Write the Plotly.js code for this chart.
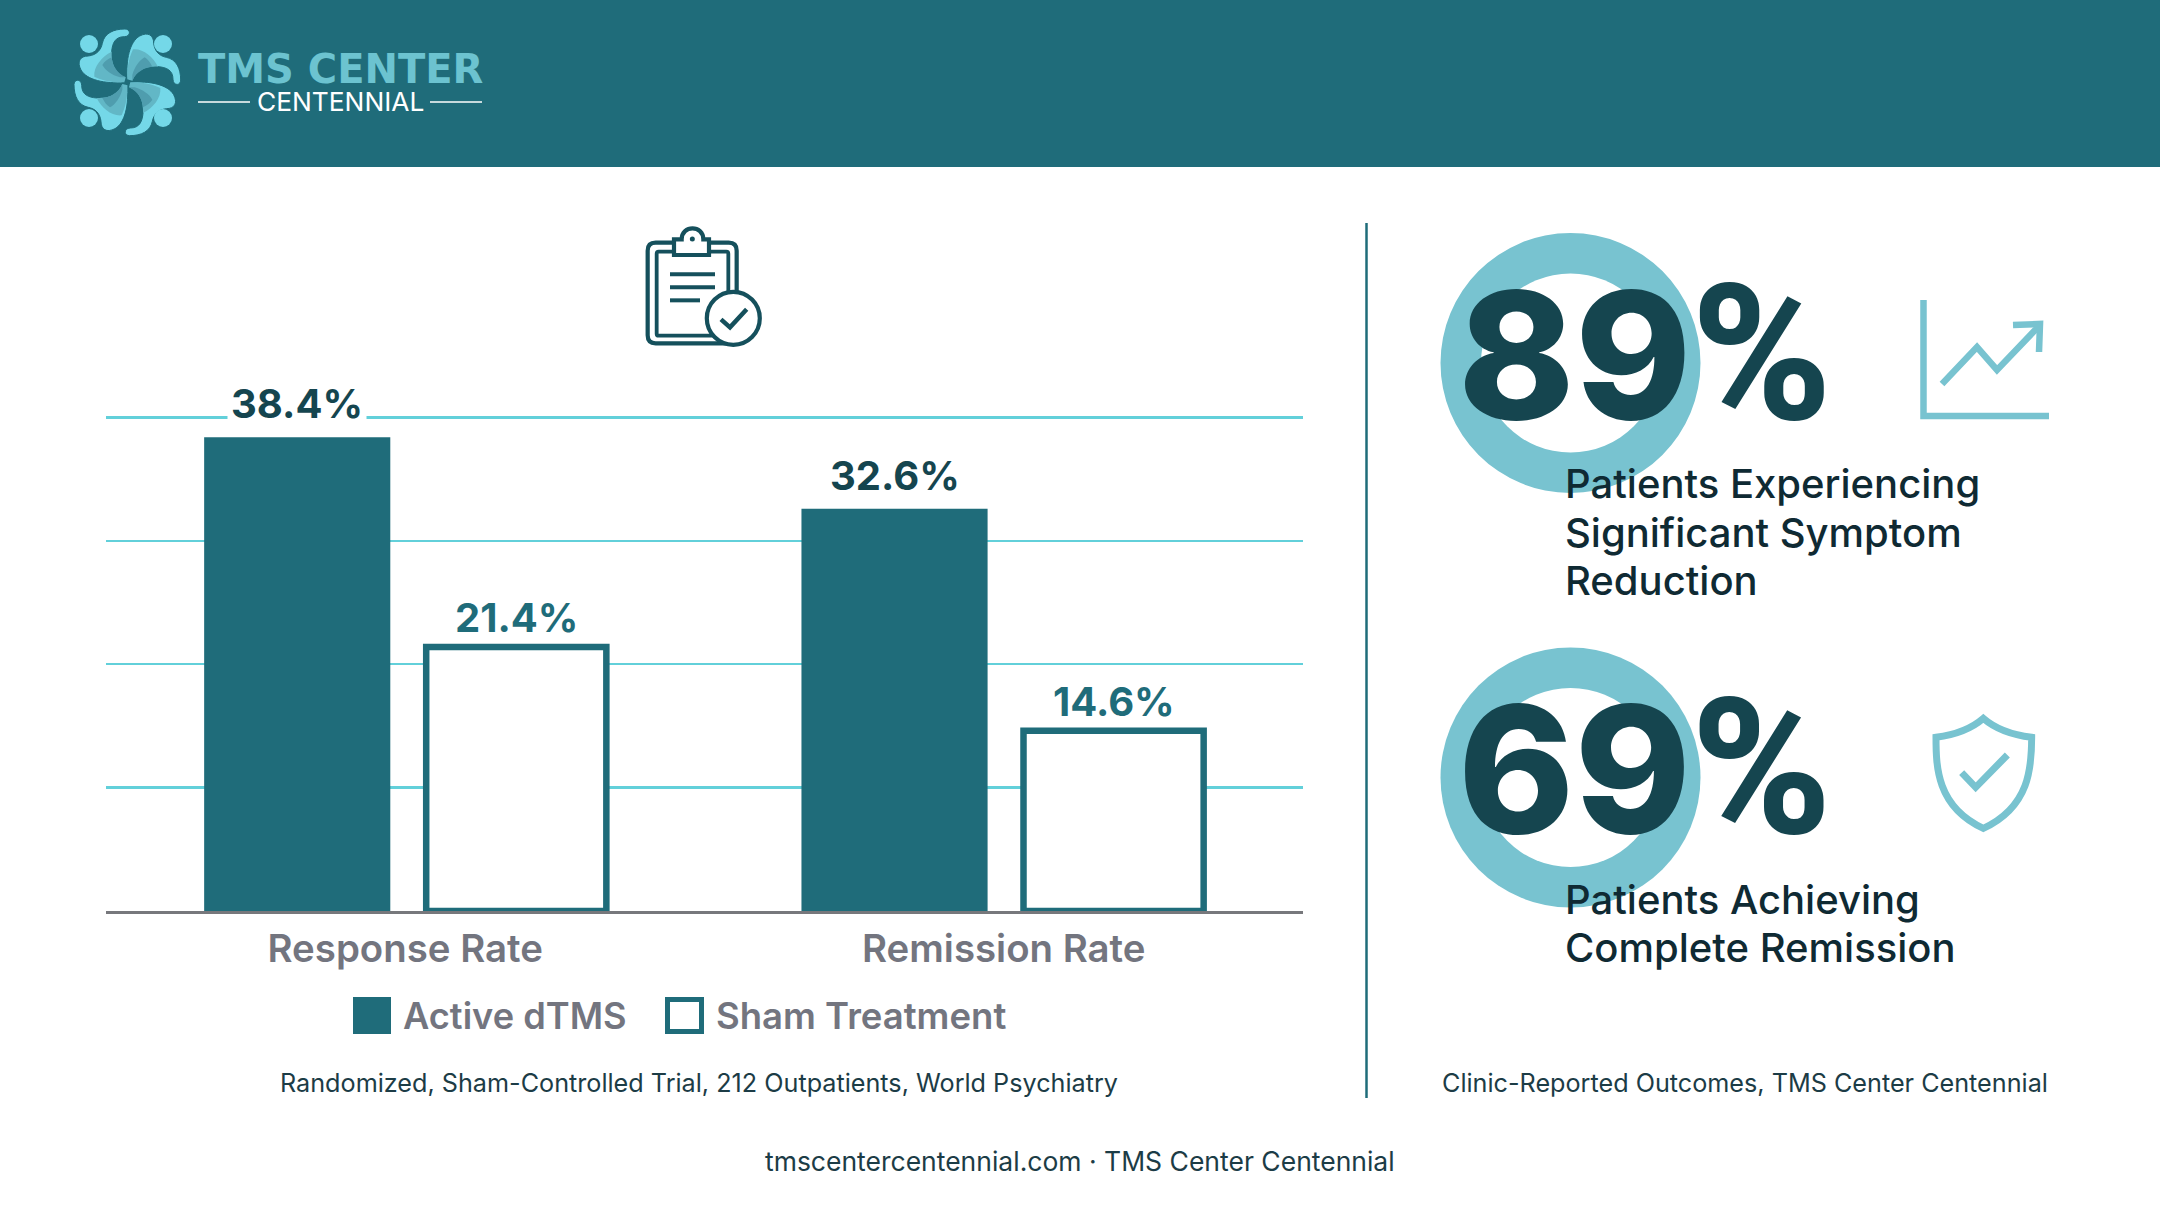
<!DOCTYPE html>
<html>
<head>
<meta charset="utf-8">
<script src="https://cdn.plot.ly/plotly-3.0.1.min.js"></script>
<style>html,body{margin:0;padding:0;background:#fff}#chart{width:2160px;height:1206px}</style>
</head>
<body>
<div id="chart"></div>
<script>
// ---- data ----
const categories = ["Response Rate", "Remission Rate"];
const activeValues = [38.4, 32.6];
const shamValues = [21.4, 14.6];
const seriesNames = ["Active dTMS", "Sham Treatment"];
const statValues = ["89", "69"];
const statCaptions = [
  ["Patients Experiencing", "Significant Symptom", "Reduction"],
  ["Patients Achieving", "Complete Remission"]
];
const sourceLeft = "Randomized, Sham-Controlled Trial, 212 Outpatients, World Psychiatry";
const sourceRight = "Clinic-Reported Outcomes, TMS Center Centennial";
const footerText = "tmscentercentennial.com · TMS Center Centennial";

// ---- styles ----
const W = 2160, H = 1206;
const TEAL = "#1f6c7a", DARK = "#15454f", LIGHT = "#78c3d0", GRID = "#62d0da", GREY = "#73757f", INK = "#0f2a33";
const FONT = "Inter, 'Noto Sans', sans-serif";
const px = x => x / W, py = y => 1 - y / H;
const AW = 0.311, AO = [-0.336, -0.338], SW = 0.301, SO = [0.035, 0.033];
const UNIT_PX = 12.34, YMAX = 41;

// pixel path -> paper path; crop coords scaled by s around origin (ox,oy)
function P(d, ox = 0, oy = 0, s = 1) {
  let i = 0;
  return d.replace(/-?\d+(\.\d+)?/g, m => {
    const v = parseFloat(m);
    const r = (i % 2 === 0) ? px(ox + v * s) : py(oy + v * s);
    i++;
    return r.toFixed(6);
  });
}
function rr(x0, y0, x1, y1, r) {
  return `M${x0 + r},${y0} L${x1 - r},${y0} Q${x1},${y0} ${x1},${y0 + r} L${x1},${y1 - r} Q${x1},${y1} ${x1 - r},${y1} L${x0 + r},${y1} Q${x0},${y1} ${x0},${y1 - r} L${x0},${y0 + r} Q${x0},${y0} ${x0 + r},${y0} Z`;
}
const paper = {xref: "paper", yref: "paper"};
const rect = (x0, y0, x1, y1, fill, line, lw) => ({...paper, type: "rect", x0: px(x0), x1: px(x1), y0: py(y1), y1: py(y0), fillcolor: fill, line: {width: lw || 0, color: line || fill}});
const circ = (cx, cy, r, fill, line, lw, op) => ({...paper, type: "circle", x0: px(cx - r), x1: px(cx + r), y0: py(cy + r), y1: py(cy - r), fillcolor: fill, opacity: op === undefined ? 1 : op, line: {width: lw || 0, color: line || fill}});
const pth = (d, fill, line, lw, op) => ({...paper, type: "path", path: d, fillcolor: fill || "rgba(0,0,0,0)", opacity: op === undefined ? 1 : op, line: {width: lw || 0, color: line || "rgba(0,0,0,0)"}});
const seg = (x0, y0, x1, y1, c, lw) => ({...paper, type: "line", x0: px(x0), x1: px(x1), y0: py(y0), y1: py(y1), line: {color: c, width: lw}});
const txt = (text, x, y, size, color, weight, anchor, family) => ({...paper, text, x: px(x), y: py(y), xanchor: anchor || "center", yanchor: "middle", showarrow: false, font: {family: family || FONT, size, color, weight: weight || 400}, borderpad: 0});

const shapes = [];
// header
shapes.push(rect(0, 0, W, 167, TEAL));
// logo mark: four rotated swooshes and dots
function rot(pts, k) { // quarter-turns about centre (crop coordinates 187,187)
  return pts.replace(/(-?\d+(?:\.\d+)?),(-?\d+(?:\.\d+)?)/g, (m, a, b) => {
    let x = +a - 187, y = +b - 187;
    for (let i = 0; i < k; i++) { const t = x; x = -y; y = t; }
    return (x + 187).toFixed(1) + "," + (y + 187).toFixed(1);
  });
}
const swoosh = "M180,27 C198,27 198,50 178,50 C150,50 142,70 140,95 C138,130 150,160 182,172 L178,187 C120,192 65,180 48,150 C35,125 45,108 70,108 C95,105 108,90 112,70 C118,40 145,27 180,27 Z";
const shade1 = "M140,95 C138,130 150,160 182,172 L178,187 C150,188 120,185 88,170 C85,140 110,110 140,95 Z";
const shade2 = "M140,112 C142,135 155,160 182,172 L165,172 C140,165 120,150 112,135 C118,125 128,118 140,112 Z";
for (let k = 0; k < 4; k++) {
  shapes.push(pth(P(rot(swoosh, k), 65, 20, 1/3), "#74d8e8", TEAL, 1));
  shapes.push(pth(P(rot(shade1, k), 65, 20, 1/3), "#62b7c6"));
  shapes.push(pth(P(rot(shade2, k), 65, 20, 1/3), "#4f9dae"));
}
[[89, 44], [163, 44], [89, 118], [163, 118]].forEach(c => shapes.push(circ(c[0], c[1], 9, "#74d8e8")));
// logo rules
shapes.push(seg(198, 102, 250, 102, "#ffffff", 1.5), seg(430, 102, 482, 102, "#ffffff", 1.5));
// divider
shapes.push(seg(1366.5, 223, 1366.5, 1098, TEAL, 2.5));

// clipboard icon (crop coordinates, offset 635,220, 3x)
const CB = "#15505c";
const o = [635, 220, 1/3];
shapes.push(pth(P(rr(38, 68, 305, 370, 24), ...o), "#ffffff", CB, 4.2));
shapes.push(pth(P(rr(65, 95, 280, 347, 6), ...o), "#ffffff", CB, 3.8));
shapes.push(pth(P("M117,58 L140,58 C140,14 205,14 205,58 L222,58 L222,105 L117,105 Z", ...o), "#ffffff", CB, 4.2));
shapes.push(circ(635 + 172/3, 220 + 57/3, 2.5, CB));
[[105, 240, 163], [105, 240, 202], [105, 195, 241]].forEach(l => shapes.push(seg(635 + l[0]/3, 220 + l[2]/3, 635 + l[1]/3, 220 + l[2]/3, CB, 4)));
shapes.push(circ(733.3, 318.3, 26.5, "#ffffff", CB, 4.2));
shapes.push(pth(P("M258,298 L285,322 L335,268", ...o), null, CB, 4.5));

// stat donuts
[[1570.5, 363], [1570.5, 777.5]].forEach(c => {
  shapes.push(circ(c[0], c[1], 130, LIGHT));
  shapes.push(circ(c[0], c[1], 89.5, "#ffffff"));
});
// growth icon
shapes.push(pth(P("M1923.5,300 L1923.5,416 L2049,416"), null, LIGHT, 6.5));
shapes.push(pth(P("M1942,384 L1977,347 L1997,370 L2040,325"), null, LIGHT, 6.5));
shapes.push(pth(P("M2013,325 L2040,324 L2039,352"), null, LIGHT, 6.5));
// shield icon
shapes.push(pth(P("M220,55 C180,90 130,105 78,112 C78,200 80,320 220,385 C360,320 365,200 365,112 C310,105 260,90 220,55 Z", 1910, 700, 1/3), null, LIGHT, 7));
shapes.push(pth(P("M155,218 L197,262 L292,165", 1910, 700, 1/3), null, LIGHT, 7));
// legend swatches
shapes.push(rect(353, 997, 391, 1034, TEAL));
shapes.push(rect(667.5, 999.5, 701.5, 1031.5, "#ffffff", TEAL, 5));

// ---- annotations ----
const annotations = [];
annotations.push(txt("TMS CENTER", 197, 69, 40, "#6cc3d0", 700, "left", "'DejaVu Sans', Inter, sans-serif"));
annotations.push(txt("CENTENNIAL", 340, 102, 26.3, "#ffffff", 400));
// value labels are derived from the data
activeValues.forEach((v, i) => annotations.push({
  xref: "x", yref: "y", x: i + AO[i] + AW / 2, y: v, yanchor: "bottom", xanchor: "center", showarrow: false,
  text: v.toFixed(1) + "%", yshift: 5, bgcolor: "#ffffff", borderpad: 3,
  font: {family: FONT, size: 40, color: DARK, weight: 700}
}));
shamValues.forEach((v, i) => annotations.push({
  xref: "x", yref: "y", x: i + SO[i] + SW / 2, y: v, yanchor: "bottom", xanchor: "center", showarrow: false,
  text: v.toFixed(1) + "%", yshift: 4, borderpad: 0,
  font: {family: FONT, size: 40, color: TEAL, weight: 700}
}));
annotations.push(txt(seriesNames[0], 402, 1016, 36.2, GREY, 600, "left"));
annotations.push(txt(seriesNames[1], 715, 1016, 36.5, GREY, 600, "left"));
annotations.push(txt(sourceLeft, 699, 1083, 25.2, "#1c3c46"));
annotations.push(txt(sourceRight, 1745, 1083, 25.2, "#1c3c46"));
annotations.push(txt(footerText, 1080, 1161, 26.5, "#1c3c46"));
const pct = '<span style="font-family:Roboto;font-size:190px;font-weight:800">%</span>';
annotations.push(txt(statValues[0] + pct, 1457, 354, 176, DARK, 800, "left"));
annotations.push(txt(statValues[1] + pct, 1457, 768, 176, DARK, 800, "left"));
const capY = [[484, 532, 580], [899, 947]];
statCaptions.forEach((lines, k) => lines.forEach((s, j) => annotations.push(txt(s, 1564, capY[k][j], 40, INK, 450, "left"))));

// ---- traces ----
const traces = [
  {type: "bar", name: seriesNames[0], x: categories, y: activeValues, width: AW, offset: AO,
   marker: {color: TEAL, line: {width: 0}}, hoverinfo: "skip"},
  {type: "bar", name: seriesNames[1], x: categories, y: shamValues, width: SW, offset: SO,
   marker: {color: "#ffffff", line: {color: TEAL, width: 6.5}}, hoverinfo: "skip", cliponaxis: false}
];
const layout = {
  width: W, height: H, margin: {l: 0, r: 0, t: 0, b: 0}, paper_bgcolor: "#ffffff", plot_bgcolor: "rgba(0,0,0,0)",
  showlegend: false, barmode: "group",
  font: {family: FONT},
  xaxis: {domain: [106 / W, 1303 / W], type: "category", categoryorder: "array", categoryarray: categories,
    range: [-0.5, 1.5], showgrid: false, zeroline: false, showline: true, linecolor: "#77787c", linewidth: 3,
    ticks: "", ticklabelstandoff: 2, tickfont: {family: FONT, size: 38.4, color: GREY, weight: 600}, layer: "below traces"},
  yaxis: {domain: [1 - 911 / H, 1 - (911 - YMAX * UNIT_PX) / H], range: [0, YMAX], tick0: 0, dtick: 10, showticklabels: false, ticks: "",
    showgrid: true, gridcolor: GRID, gridwidth: 2.5, zeroline: false, showline: false, layer: "below traces"},
  shapes, annotations
};
Plotly.newPlot("chart", traces, layout, {staticPlot: true, displayModeBar: false});
</script>
</body>
</html>
